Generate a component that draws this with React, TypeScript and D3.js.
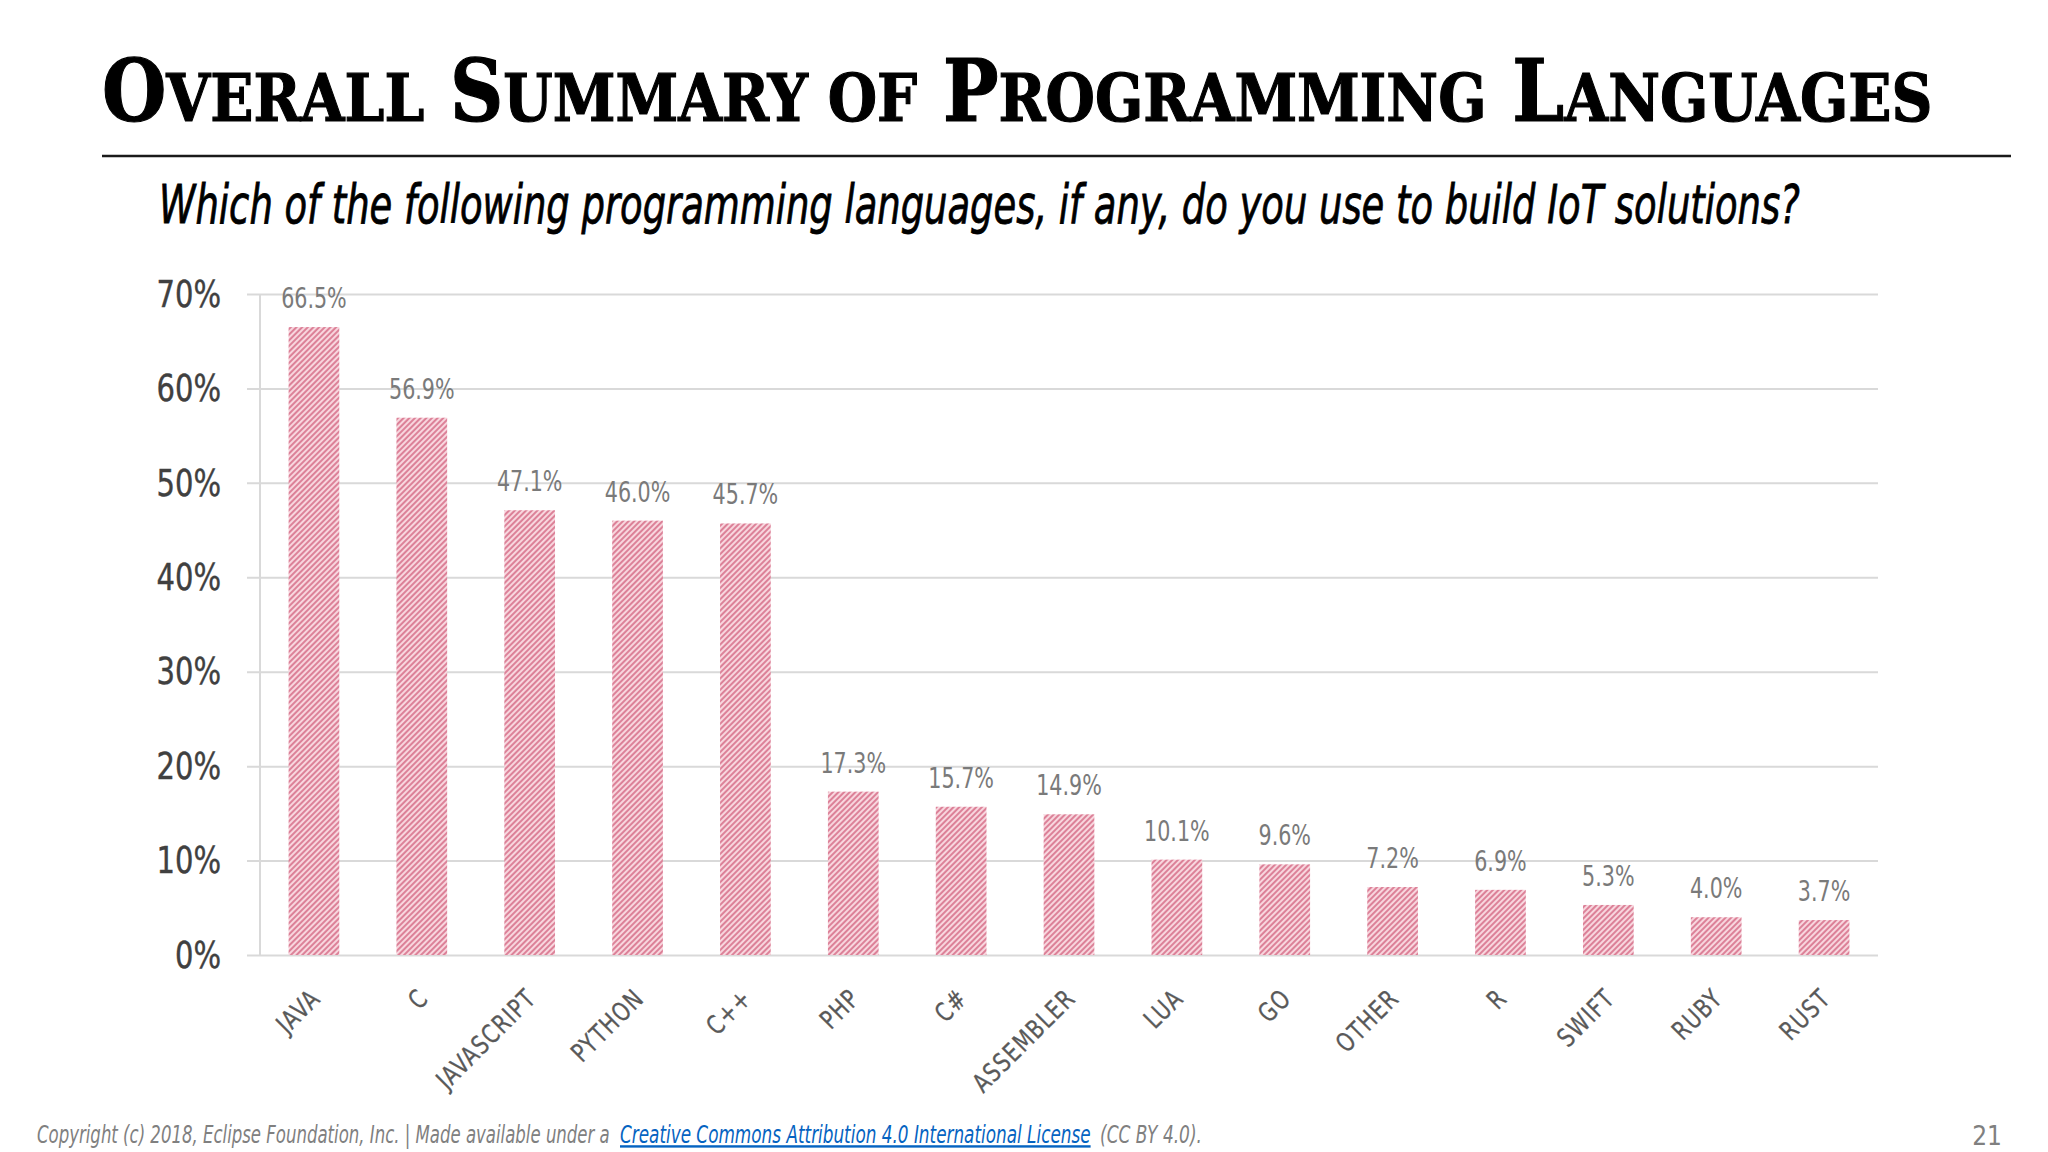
import { useEffect, useRef } from "react";
import * as d3 from "d3";

// survey results, share of respondents (%)
const languages = [
  "JAVA", "C", "JAVASCRIPT", "PYTHON", "C++", "PHP", "C#", "ASSEMBLER",
  "LUA", "GO", "OTHER", "R", "SWIFT", "RUBY", "RUST",
];
const shares = [66.5, 56.9, 47.1, 46.0, 45.7, 17.3, 15.7, 14.9, 10.1, 9.6, 7.2, 6.9, 5.3, 4.0, 3.7];
const yTicks = [0, 10, 20, 30, 40, 50, 60, 70];

const titleWords = [
  ["O", "VERALL"],
  ["S", "UMMARY"],
  ["", "OF"],
  ["P", "ROGRAMMING"],
  ["L", "ANGUAGES"],
];
const subtitle = "Which of the following programming languages, if any, do you use to build IoT solutions?";
const footerLead = "Copyright (c) 2018, Eclipse Foundation, Inc. | Made available under a";
const footerLink = "Creative Commons Attribution 4.0 International License";
const footerTail = "(CC BY 4.0).";
const pageNumber = "21";

const W = 2048;
const H = 1152;
const NARROW = "'Liberation Sans Narrow', 'DejaVu Sans Condensed', 'DejaVu Sans', sans-serif";
const SLAB = "'DejaVu Serif', serif";

type Sel = d3.Selection<SVGTextElement, unknown, null, undefined>;

// squeeze a text horizontally so it spans exactly `width` px from (x0, y0)
const fitWidth = (t: Sel, x0: number, y0: number, width: number) => {
  const len = t.node()!.getComputedTextLength();
  t.attr("transform", `translate(${x0},${y0}) scale(${width / len},1)`);
  return t;
};

export default function App() {
  const ref = useRef<SVGSVGElement>(null);

  useEffect(() => {
    const svg = d3.select(ref.current);
    svg.selectAll("*").remove();

    const plot = { left: 260, right: 1878, top: 294, bottom: 955, gridLeft: 247 };

    const x = d3
      .scaleBand<string>()
      .domain(languages)
      .range([plot.left, plot.right])
      .paddingInner(0.53)
      .paddingOuter(0.265);

    const y = d3.scaleLinear().domain([0, 70]).range([plot.bottom, plot.top]);

    // hatch fill for bars
    const defs = svg.append("defs");
    const pat = defs
      .append("pattern")
      .attr("id", "hatch")
      .attr("patternUnits", "userSpaceOnUse")
      .attr("width", 4)
      .attr("height", 4)
      .attr("patternTransform", "rotate(45)");
    pat.append("rect").attr("width", 4).attr("height", 4).attr("fill", "#f8d6de");
    pat.append("rect").attr("width", 2).attr("height", 4).attr("fill", "#dc8198");

    // title
    const title = svg
      .append("text")
      .attr("font-family", SLAB)
      .attr("font-weight", "bold")
      .attr("fill", "#000")
      .attr("stroke", "#000")
      .attr("stroke-width", 1.2) as unknown as Sel;
    titleWords.forEach(([cap, rest], i) => {
      if (cap) title.append("tspan").attr("font-size", 86).text((i > 0 ? " " : "") + cap);
      title.append("tspan").attr("font-size", 66).text((i > 0 && !cap ? " " : "") + rest);
    });
    fitWidth(title, 102, 121, 1831);

    svg
      .append("line")
      .attr("x1", 102)
      .attr("x2", 2011)
      .attr("y1", 156)
      .attr("y2", 156)
      .attr("stroke", "#1a1a1a")
      .attr("stroke-width", 2.5);

    const sub = svg
      .append("text")
      .attr("font-family", NARROW)
      .attr("font-stretch", "condensed")
      .attr("font-style", "italic")
      .attr("font-size", 54)
      .attr("fill", "#000")
      .attr("stroke", "#000")
      .attr("stroke-width", 0.8)
      .text(subtitle) as unknown as Sel;
    fitWidth(sub, 159, 223, 1641);

    // y axis with gridlines
    const yScaleX = 0.85;
    const yAxis = svg
      .append("g")
      .attr("transform", `translate(${plot.gridLeft},0)`)
      .call(
        d3
          .axisLeft(y)
          .tickValues(yTicks)
          .tickSize(-(plot.right - plot.gridLeft))
          .tickPadding(26)
          .tickFormat((d) => `${d}%`)
      );
    yAxis.select(".domain").remove();
    yAxis.selectAll(".tick line").attr("stroke", "#d9d9d9").attr("stroke-width", 2);
    yAxis
      .selectAll(".tick text")
      .attr("x", -26 / yScaleX)
      .attr("transform", `scale(${yScaleX},1)`)
      .attr("font-family", NARROW)
      .attr("font-stretch", "condensed")
      .attr("font-size", 38)
      .attr("fill", "#404040")
      .attr("stroke", "#404040")
      .attr("stroke-width", 0.4);

    svg
      .append("line")
      .attr("x1", plot.left)
      .attr("x2", plot.left)
      .attr("y1", plot.top)
      .attr("y2", plot.bottom)
      .attr("stroke", "#d9d9d9")
      .attr("stroke-width", 2);

    // bars
    svg
      .append("g")
      .selectAll("rect")
      .data(languages)
      .join("rect")
      .attr("x", (d) => x(d)!)
      .attr("width", x.bandwidth())
      .attr("y", (_, i) => y(shares[i]))
      .attr("height", (_, i) => y(0) - y(shares[i]))
      .attr("fill", "url(#hatch)");

    // value labels
    svg
      .append("g")
      .selectAll("text")
      .data(languages)
      .join("text")
      .attr(
        "transform",
        (d, i) => `translate(${x(d)! + x.bandwidth() / 2},${y(shares[i]) - 19}) scale(0.82,1)`
      )
      .attr("text-anchor", "middle")
      .attr("font-family", NARROW)
      .attr("font-stretch", "condensed")
      .attr("font-size", 28)
      .attr("fill", "#7a7a7a")
      .text((_, i) => `${shares[i].toFixed(1)}%`);

    // category labels
    svg
      .append("g")
      .selectAll("text")
      .data(languages)
      .join("text")
      .attr(
        "transform",
        (d) => `translate(${x(d)! + x.bandwidth() / 2 + 8},1000) rotate(-45) scale(0.86,1)`
      )
      .attr("text-anchor", "end")
      .attr("font-family", NARROW)
      .attr("font-stretch", "condensed")
      .attr("font-size", 26)
      .attr("letter-spacing", 1.5)
      .attr("fill", "#595959")
      .attr("stroke", "#595959")
      .attr("stroke-width", 0.3)
      .text((d) => d);

    // footer
    const foot = (t: string, x0: number, len: number, color: string) => {
      const el = svg
        .append("text")
        .attr("font-family", NARROW)
        .attr("font-stretch", "condensed")
        .attr("font-style", "italic")
        .attr("font-size", 24)
        .attr("fill", color)
        .text(t) as unknown as Sel;
      return fitWidth(el, x0, 1143, len);
    };
    foot(footerLead, 37, 573, "#808080");
    foot(footerLink, 620, 471, "#0563c1").attr("text-decoration", "underline");
    foot(footerTail, 1100, 102, "#808080");

    svg
      .append("text")
      .attr("x", 2002)
      .attr("y", 1145)
      .attr("text-anchor", "end")
      .attr("font-family", NARROW)
      .attr("font-stretch", "condensed")
      .attr("font-size", 26)
      .attr("fill", "#808080")
      .text(pageNumber);
  }, []);

  return (
    <svg
      ref={ref}
      width={W}
      height={H}
      style={{ position: "absolute", left: 0, top: 0, background: "#fff" }}
    />
  );
}
